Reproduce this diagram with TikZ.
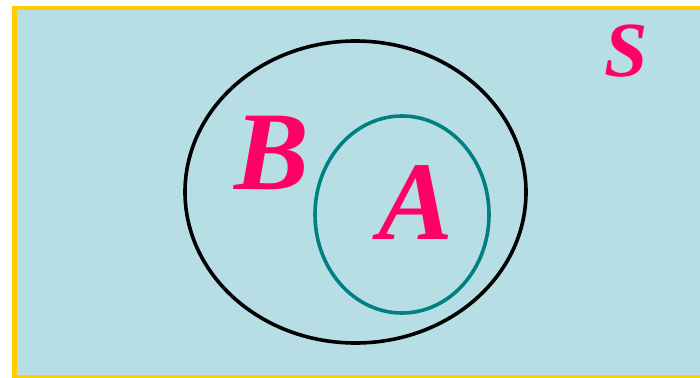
\documentclass[tikz,border=0pt]{standalone}
\usepackage{fontspec}
\setmainfont{Liberation Serif}
\usetikzlibrary{shapes.geometric}
\definecolor{cSpace}{RGB}{183,222,229}
\definecolor{cFrame}{RGB}{255,204,0}
\definecolor{cLabel}{RGB}{255,0,102}
\definecolor{cInner}{RGB}{0,128,128}
\begin{document}
\begin{tikzpicture}[x=1pt,y=-1pt,
  setline/.style={draw,ellipse,inner sep=0pt,line width=3.6pt},
  lab/.style={text=cLabel,inner sep=0pt,font=\bfseries\itshape}]
  \useasboundingbox (0,0) rectangle (700,377);
  % sample space
  \draw[cFrame,line width=4.5pt,fill=cSpace] (14.5,8) rectangle (712,377.5);
  % sets
  \node[setline,minimum width=341pt,minimum height=302pt] (setB) at (355.5,192) {};
  \node[setline,draw=cInner,minimum width=174pt,minimum height=197pt] (setA) at (402,214.5) {};
  % labels
  \node[lab,font=\bfseries\itshape\fontsize{112}{112}\selectfont] (B) at (272,153) {B};
  \node[lab,font=\bfseries\itshape\fontsize{112}{112}\selectfont] (A) at (416,203) {A};
  \node[lab,font=\bfseries\itshape\fontsize{78}{78}\selectfont] (S) at (626,51) {S};
\end{tikzpicture}
\end{document}
